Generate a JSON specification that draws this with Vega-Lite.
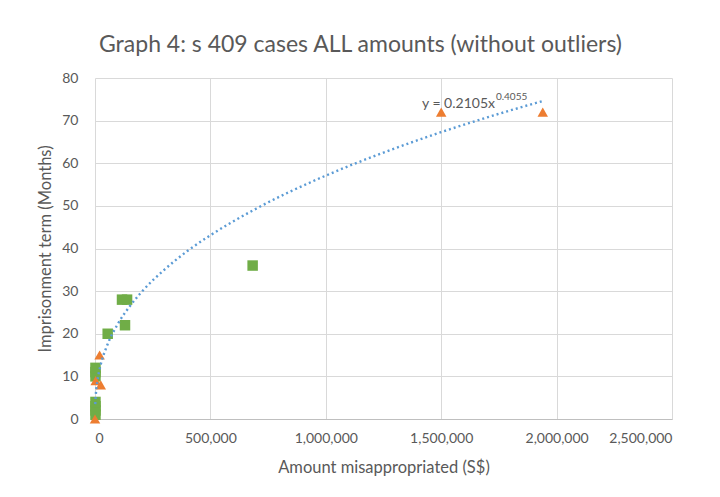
{
  "$schema": "https://vega.github.io/schema/vega-lite/v6.json",
  "autosize": {"type": "none"},
  "padding": {"left": 95, "top": 78, "right": 48, "bottom": 78},
  "width": 577,
  "height": 341,
  "background": "white",
  "config": {
    "view": {"stroke": null},
    "font": "Lato",
    "axis": {"gridColor": "#d9d9d9", "labelColor": "#595959", "titleColor": "#595959", "labelFont": "Lato", "titleFont": "Lato", "labelFontSize": 14, "titleFontSize": 16.5, "titleFontWeight": "normal", "ticks": false}
  },
  "title": {"text": "Graph 4: s 409 cases ALL amounts (without outliers)", "font": "Lato", "fontSize": 23, "fontWeight": "normal", "color": "#595959", "offset": 14, "anchor": "middle", "dx": -23},
  "datasets": {
    "cases": [
      {"amount": 2000, "months": 1, "series": "B"},
      {"amount": 2000, "months": 2, "series": "B"},
      {"amount": 2000, "months": 3, "series": "B"},
      {"amount": 2000, "months": 4, "series": "B"},
      {"amount": 2000, "months": 10, "series": "B"},
      {"amount": 2000, "months": 11, "series": "B"},
      {"amount": 2000, "months": 12, "series": "B"},
      {"amount": 55000, "months": 20, "series": "B"},
      {"amount": 117000, "months": 28, "series": "B"},
      {"amount": 139000, "months": 28, "series": "B"},
      {"amount": 130000, "months": 22, "series": "B"},
      {"amount": 683000, "months": 36, "series": "B"},
      {"amount": 0, "months": 0, "series": "A"},
      {"amount": 3000, "months": 9, "series": "A"},
      {"amount": 25000, "months": 8, "series": "A"},
      {"amount": 20000, "months": 15, "series": "A"},
      {"amount": 1500000, "months": 72, "series": "A"},
      {"amount": 1940000, "months": 72, "series": "A"}
    ],
    "trend": [
      {"amount": 1000, "months": 3.5},
      {"amount": 5000, "months": 6.7},
      {"amount": 10000, "months": 8.8},
      {"amount": 25000, "months": 12.8},
      {"amount": 50000, "months": 16.9},
      {"amount": 100000, "months": 22.4},
      {"amount": 150000, "months": 26.4},
      {"amount": 200000, "months": 29.7},
      {"amount": 300000, "months": 35.0},
      {"amount": 400000, "months": 39.4},
      {"amount": 500000, "months": 43.1},
      {"amount": 700000, "months": 49.4},
      {"amount": 1000000, "months": 57.1},
      {"amount": 1250000, "months": 62.5},
      {"amount": 1500000, "months": 67.3},
      {"amount": 1750000, "months": 71.6},
      {"amount": 1940000, "months": 74.6}
    ]
  },
  "layer": [
    {
      "data": {"name": "cases"},
      "transform": [{"filter": "datum.series == 'B'"}],
      "mark": {"type": "point", "shape": "square", "filled": true, "size": 110, "color": "#70AD47", "opacity": 1},
      "encoding": {
        "x": {"field": "amount", "type": "quantitative", "scale": {"domain": [0, 2500000], "nice": false}, "axis": {"title": "Amount misappropriated (S$)", "values": [0, 500000, 1000000, 1500000, 2000000, 2500000], "format": ",.0f", "labelPadding": 12, "titlePadding": 14, "domainColor": "#bfbfbf", "gridColor": "#d9d9d9"}},
        "y": {"field": "months", "type": "quantitative", "scale": {"domain": [0, 80], "nice": false}, "axis": {"title": "Imprisonment term (Months)", "values": [0, 10, 20, 30, 40, 50, 60, 70, 80], "labelPadding": 17, "titlePadding": 8, "domain": false}}
      }
    },
    {
      "data": {"name": "cases"},
      "transform": [{"filter": "datum.series == 'A'"}],
      "mark": {"type": "point", "shape": "triangle-up", "filled": true, "size": 110, "color": "#ED7D31", "opacity": 1},
      "encoding": {
        "x": {"field": "amount", "type": "quantitative"},
        "y": {"field": "months", "type": "quantitative"}
      }
    },
    {
      "data": {"name": "trend"},
      "mark": {"type": "line", "color": "#5B9BD5", "strokeWidth": 2.4, "strokeDash": [2, 3], "interpolate": "monotone"},
      "encoding": {
        "x": {"field": "amount", "type": "quantitative"},
        "y": {"field": "months", "type": "quantitative"}
      }
    },
    {
      "data": {"values": [{}]},
      "mark": {"type": "text", "text": "y = 0.2105x", "align": "right", "baseline": "middle", "fontSize": 14, "color": "#595959", "font": "Lato"},
      "encoding": {"x": {"datum": 1733000, "type": "quantitative"}, "y": {"datum": 73.9, "type": "quantitative"}}
    },
    {
      "data": {"values": [{}]},
      "mark": {"type": "text", "text": "0.4055", "align": "left", "baseline": "middle", "fontSize": 10, "color": "#595959", "font": "Lato"},
      "encoding": {"x": {"datum": 1737000, "type": "quantitative"}, "y": {"datum": 75.6, "type": "quantitative"}}
    }
  ]
}
